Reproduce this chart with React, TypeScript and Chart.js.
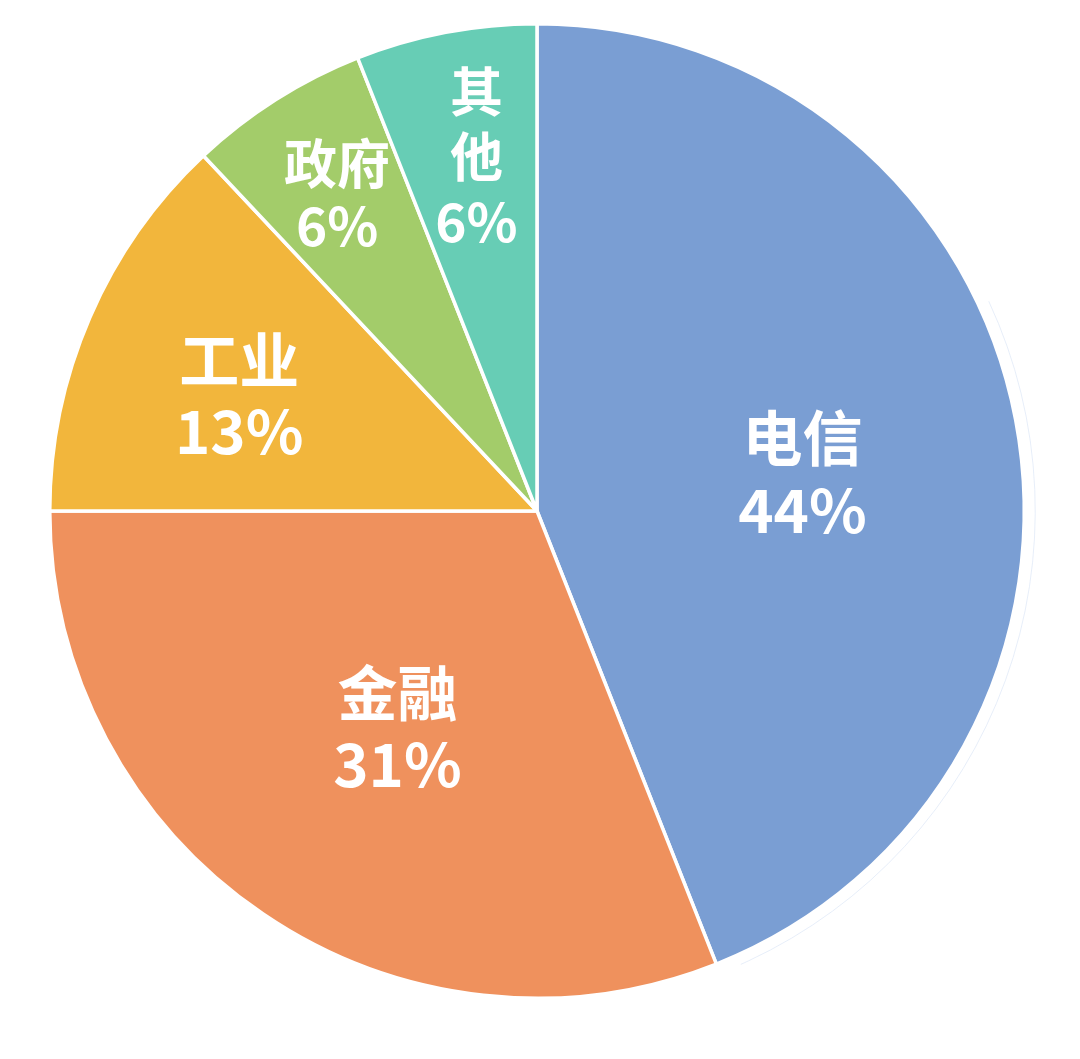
import React, { useEffect, useRef } from "react";
import { Chart, registerables } from "chart.js";

Chart.register(...registerables);

// ---- data ----
const categories = ["电信", "金融", "工业", "政府", "其他"];
const shares = [44, 31, 13, 6, 6];
const shareLabels = ["44%", "31%", "13%", "6%", "6%"];

// ---- styles ----
const colors = ["#7A9ED3", "#EF915D", "#F2B63C", "#A3CC6A", "#67CDB5"];
const labelRadius = [0.55, 0.53, 0.655, 0.768, 0.738];
const labelAngleShift = [2.9, -1.5, -2.3, 0.1, 1.1];
const labelFontSize = [60, 60, 60, 53, 53];
const labelLineGap = [72, 71, 71, 62, 65];
const stackName = [false, false, false, false, true];

const W = 1080;
const H = 1059;

const ghostPlugin = {
  id: "ghostEdge",
  beforeDatasetsDraw(chart: any) {
    const meta = chart.getDatasetMeta(0);
    const arc = meta.data[0];
    if (!arc) return;
    const { x, y, outerRadius } = arc.getProps(["x", "y", "outerRadius"], true);
    const ctx = chart.ctx;
    ctx.save();
    ctx.strokeStyle = "rgba(215,226,245,0.6)";
    ctx.lineWidth = 1;
    ctx.beginPath();
    ctx.arc(x + 2, y, outerRadius + 9, (-25 * Math.PI) / 180, (66 * Math.PI) / 180);
    ctx.stroke();
    ctx.restore();
  },
};

const labelPlugin = {
  id: "sliceLabels",
  afterDatasetsDraw(chart: any) {
    const meta = chart.getDatasetMeta(0);
    const ctx = chart.ctx;
    meta.data.forEach((arc: any, i: number) => {
      const { x, y, startAngle, endAngle, outerRadius } = arc.getProps(
        ["x", "y", "startAngle", "endAngle", "outerRadius"],
        true
      );
      const mid = (startAngle + endAngle) / 2 + (labelAngleShift[i] * Math.PI) / 180;
      const rr = outerRadius * labelRadius[i];
      const cx = x + Math.cos(mid) * rr;
      const cy = y + Math.sin(mid) * rr;
      const name = categories[i];
      const lines = stackName[i] ? [...Array.from(name), shareLabels[i]] : [name, shareLabels[i]];
      const gap = labelLineGap[i];
      ctx.save();
      ctx.fillStyle = "#FFFFFF";
      ctx.font = `bold ${labelFontSize[i]}px "Noto Sans CJK SC", "Noto Sans", sans-serif`;
      ctx.textAlign = "center";
      ctx.textBaseline = "middle";
      lines.forEach((t, k) => {
        ctx.fillText(t, cx, cy + (k - (lines.length - 1) / 2) * gap);
      });
      ctx.restore();
    });
  },
};

export default function App() {
  const ref = useRef<HTMLCanvasElement | null>(null);

  useEffect(() => {
    if (!ref.current) return;
    const chart = new Chart(ref.current, {
      type: "pie",
      data: {
        labels: categories,
        datasets: [
          {
            data: shares,
            backgroundColor: colors,
            borderColor: "#FFFFFF",
            borderWidth: 3.5,
          },
        ],
      },
      options: {
        responsive: false,
        animation: false,
        layout: { padding: { left: 48, right: 54, top: 22, bottom: 59 } },
        plugins: {
          legend: { display: false },
          tooltip: { enabled: false },
          title: { display: false },
        },
      },
      plugins: [ghostPlugin, labelPlugin],
    });
    return () => chart.destroy();
  }, []);

  return (
    <div style={{ position: "absolute", left: 0, top: 0, width: W, height: H, background: "#FFFFFF" }}>
      <canvas ref={ref} width={W} height={H} style={{ display: "block", width: W, height: H }} />
    </div>
  );
}
